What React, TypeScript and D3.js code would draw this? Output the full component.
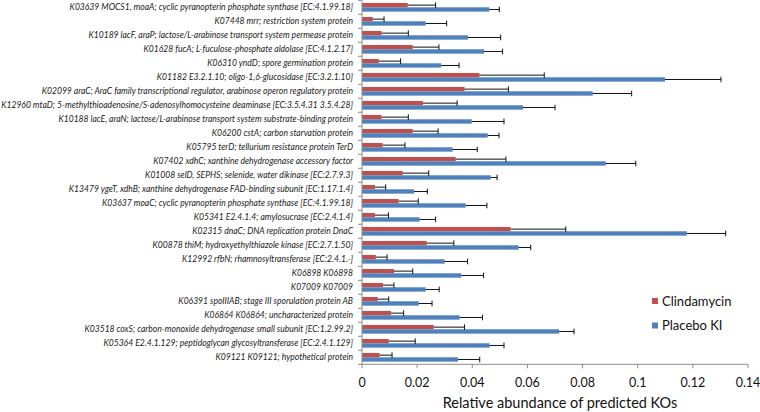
import React from "react";
import * as d3 from "d3";

const categories = [
  "K03639 MOCS1, moaA; cyclic pyranopterin phosphate synthase [EC:4.1.99.18]",
  "K07448 mrr; restriction system protein",
  "K10189 lacF, araP; lactose/L-arabinose transport system permease protein",
  "K01628 fucA; L-fuculose-phosphate aldolase [EC:4.1.2.17]",
  "K06310 yndD; spore germination protein",
  "K01182 E3.2.1.10; oligo-1,6-glucosidase [EC:3.2.1.10]",
  "K02099 araC; AraC family transcriptional regulator, arabinose operon regulatory protein",
  "K12960 mtaD; 5-methylthioadenosine/S-adenosylhomocysteine deaminase [EC:3.5.4.31 3.5.4.28]",
  "K10188 lacE, araN; lactose/L-arabinose transport system substrate-binding protein",
  "K06200 cstA; carbon starvation protein",
  "K05795 terD; tellurium resistance protein TerD",
  "K07402 xdhC; xanthine dehydrogenase accessory factor",
  "K01008 selD, SEPHS; selenide, water dikinase [EC:2.7.9.3]",
  "K13479 ygeT, xdhB; xanthine dehydrogenase FAD-binding subunit [EC:1.17.1.4]",
  "K03637 moaC; cyclic pyranopterin phosphate synthase [EC:4.1.99.18]",
  "K05341 E2.4.1.4; amylosucrase [EC:2.4.1.4]",
  "K02315 dnaC; DNA replication protein DnaC",
  "K00878 thiM; hydroxyethylthiazole kinase [EC:2.7.1.50]",
  "K12992 rfbN; rhamnosyltransferase [EC:2.4.1.-]",
  "K06898 K06898",
  "K07009 K07009",
  "K06391 spoIIIAB; stage III sporulation protein AB",
  "K06864 K06864; uncharacterized protein",
  "K03518 coxS; carbon-monoxide dehydrogenase small subunit [EC:1.2.99.2]",
  "K05364 E2.4.1.129; peptidoglycan glycosyltransferase [EC:2.4.1.129]",
  "K09121 K09121; hypothetical protein",
];

const clindaMean = [
  0.0166, 0.0039, 0.0071, 0.0184, 0.0061, 0.0426, 0.0372, 0.0221, 0.0071,
  0.0184, 0.0075, 0.034, 0.0148, 0.0047, 0.0133, 0.0047, 0.0539, 0.0235,
  0.005, 0.0116, 0.0076, 0.0057, 0.0105, 0.026, 0.0097, 0.0064,
];
const clindaUpper = [
  0.0267, 0.008, 0.0168, 0.0279, 0.014, 0.0661, 0.0531, 0.0345, 0.0168,
  0.0276, 0.0156, 0.0522, 0.0242, 0.0086, 0.0204, 0.0096, 0.0739, 0.0333,
  0.0091, 0.0184, 0.0116, 0.0097, 0.0151, 0.0372, 0.0193, 0.0109,
];
const placeboMean = [
  0.0462, 0.0231, 0.0384, 0.0443, 0.0287, 0.1099, 0.0837, 0.0584, 0.0398,
  0.0456, 0.0329, 0.0884, 0.0467, 0.0189, 0.0376, 0.0209, 0.1178, 0.0568,
  0.03, 0.036, 0.0231, 0.0206, 0.0354, 0.0715, 0.0463, 0.0348,
];
const placeboUpper = [
  0.0498, 0.0307, 0.0503, 0.051, 0.0352, 0.1302, 0.0978, 0.07, 0.0515,
  0.0497, 0.0418, 0.0993, 0.049, 0.0237, 0.0453, 0.0267, 0.1319, 0.0612,
  0.0383, 0.0441, 0.028, 0.0254, 0.0437, 0.0769, 0.0515, 0.0427,
];

const xTicks = [0, 0.02, 0.04, 0.06, 0.08, 0.1, 0.12, 0.14];
const seriesNames = ["Clindamycin", "Placebo KI"];
const seriesColors = ["#C0504D", "#4F81BD"];

export default function App() {
  const W = 760;
  const H = 412;
  const left = 362;
  const right = 748;
  const top = 0.3;
  const bottom = 364.3;

  const x = d3.scaleLinear().domain([0, 0.14]).range([left, right]);
  const y = d3
    .scaleBand<string>()
    .domain(categories)
    .range([top, bottom])
    .paddingInner(0)
    .paddingOuter(0);
  const bw = y.bandwidth();
  const barH = bw * 0.31;

  const series = [
    { mean: clindaMean, upper: clindaUpper, off: -barH },
    { mean: placeboMean, upper: placeboUpper, off: 0 },
  ];

  return (
    <svg
      width={W}
      height={H}
      style={{ position: "absolute", left: 0, top: 0, background: "#fff" }}
    >
      {/* category labels */}
      {categories.map((c) => (
        <text
          key={c}
          x={left - 9}
          y={(y(c) as number) + bw / 2}
          dy="0.35em"
          textAnchor="end"
          fontFamily="Lato, 'Open Sans', sans-serif"
          fontStyle="italic"
          fontSize={8.55}
          fill="#222"
        >
          {c}
        </text>
      ))}

      {/* bars */}
      {series.map((s, si) =>
        categories.map((c, i) => {
          const yc = (y(c) as number) + bw / 2 + s.off;
          return (
            <rect
              key={`b${si}-${i}`}
              x={x(0)}
              y={yc}
              width={x(s.mean[i]) - x(0)}
              height={barH}
              fill={seriesColors[si]}
            />
          );
        })
      )}

      {/* error bars */}
      {series.map((s, si) =>
        categories.map((c, i) => {
          const yc = (y(c) as number) + bw / 2 + s.off + barH / 2;
          const x1 = x(s.mean[i]);
          const x2 = x(s.upper[i]);
          return (
            <g key={`e${si}-${i}`} stroke="#111" strokeWidth={1}>
              <line x1={x1} x2={x2} y1={yc} y2={yc} />
              <line x1={x2} x2={x2} y1={yc - 2.8} y2={yc + 2.8} />
            </g>
          );
        })
      )}

      {/* y axis */}
      <line x1={left} x2={left} y1={top} y2={bottom} stroke="#8c8c8c" />
      {categories.map((c, i) => (
        <line
          key={`yt${i}`}
          x1={left - 4}
          x2={left}
          y1={(y(c) as number)}
          y2={(y(c) as number)}
          stroke="#8c8c8c"
        />
      ))}
      <line x1={left - 4} x2={left} y1={bottom} y2={bottom} stroke="#8c8c8c" />

      {/* x axis */}
      <line x1={left} x2={right} y1={bottom} y2={bottom} stroke="#8c8c8c" />
      {xTicks.map((t) => (
        <g key={`xt${t}`}>
          <line
            x1={x(t)}
            x2={x(t)}
            y1={bottom}
            y2={bottom + 4}
            stroke="#8c8c8c"
          />
          <text
            x={x(t)}
            y={387}
            textAnchor="middle"
            fontFamily="Lato, 'Open Sans', sans-serif"
            fontSize={12.5}
            fill="#111"
          >
            {String(t)}
          </text>
        </g>
      ))}
      <text
        x={560}
        y={408}
        textAnchor="middle"
        fontFamily="Lato, 'Open Sans', sans-serif"
        fontSize={14.5}
        fill="#111"
      >
        Relative abundance of predicted KOs
      </text>

      {/* legend */}
      {seriesNames.map((n, i) => (
        <g key={n} transform={`translate(652, ${298 + i * 24.5})`}>
          <rect x={0} y={0} width={6} height={6} fill={seriesColors[i]} />
          <text
            x={10}
            y={3}
            dy="0.35em"
            fontFamily="Lato, 'Open Sans', sans-serif"
            fontSize={13}
            fill="#111"
          >
            {n}
          </text>
        </g>
      ))}
    </svg>
  );
}
